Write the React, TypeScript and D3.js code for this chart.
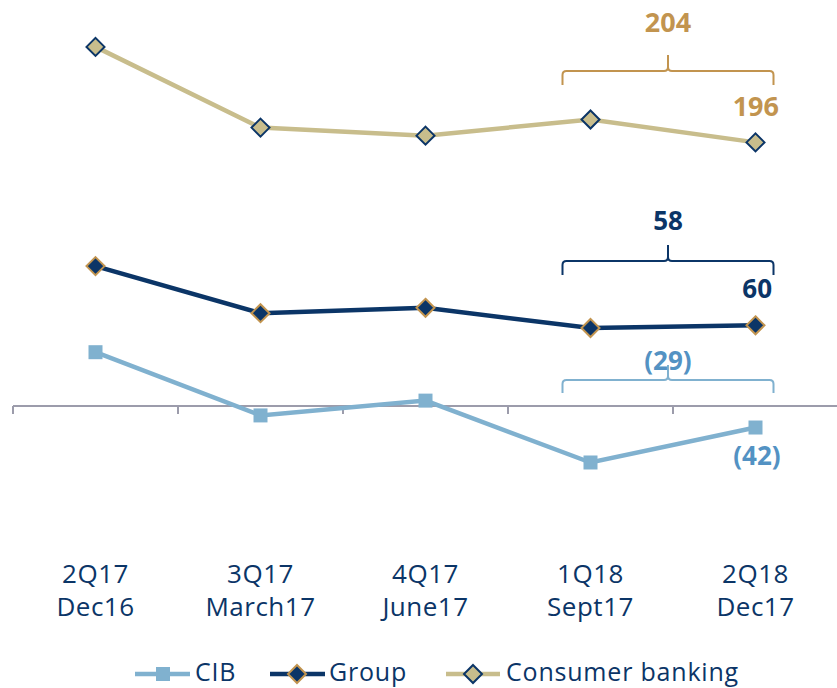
import React from "react";
import * as d3 from "d3";

const categories = ["2Q17", "3Q17", "4Q17", "1Q18", "2Q18"];
const periodLabels = ["Dec16", "March17", "June17", "Sept17", "Dec17"];
const consumerValues = [267, 207, 201, 213, 196];
const groupValues = [104, 69, 73, 58, 60];
const cibValues = [40, -7, 4, -42, -16];

const consumerAvgLabel = "204";
const consumerLastLabel = "196";
const groupAvgLabel = "58";
const groupLastLabel = "60";
const cibAvgLabel = "(29)";
const cibLastLabel = "(42)";

const W = 837;
const H = 688;
const NAVY = "#0b3567";
const GOLD = "#c2944f";
const KHAKI = "#c8bd8c";
const LIGHTBLUE = "#80b1cf";
const BLUETEXT = "#5392c3";
const AXIS = "#9c9cab";
const FONT = "'Open Sans', 'DejaVu Sans', sans-serif";

export default function App() {
  const x = d3.scaleBand<string>().domain(categories).range([13, 838]);
  const cx = (c: string) => (x(c) as number) + x.bandwidth() / 2;
  const y = d3.scaleLinear().domain([0, 200]).range([406, 137]);

  const line = d3
    .line<number>()
    .x((_, i) => cx(categories[i]))
    .y((d) => y(d));

  const diamond = (px: number, py: number, r: number) =>
    `M${px},${py - r}L${px + r},${py}L${px},${py + r}L${px - r},${py}Z`;

  const bracket = (x0: number, x1: number, yh: number, depth: number, tip: number, xm: number) => {
    const r = 4;
    return `M${x0},${yh + depth} L${x0},${yh + r} Q${x0},${yh} ${x0 + r},${yh} L${xm - r},${yh} Q${xm},${yh} ${xm},${yh - r} L${xm},${yh - tip} M${xm},${yh - r} Q${xm},${yh} ${xm + r},${yh} L${x1 - r},${yh} Q${x1},${yh} ${x1},${yh + r} L${x1},${yh + depth}`;
  };

  const bx0 = cx(categories[3]) - 28;
  const bx1 = cx(categories[4]) + 18;
  const bxm = (bx0 + bx1) / 2;

  const ticks = d3.range(categories.length + 1).map((i) => 13 + i * x.bandwidth());

  return (
    <svg width={W} height={H} style={{ position: "absolute", left: 0, top: 0 }} fontFamily={FONT}>
      <rect width={W} height={H} fill="#ffffff" />
      {/* axis */}
      <line x1={13} x2={838} y1={y(0)} y2={y(0)} stroke={AXIS} strokeWidth={2} />
      {ticks.map((t, i) => (
        <line key={i} x1={t} x2={t} y1={y(0)} y2={y(0) + 8} stroke={AXIS} strokeWidth={2} />
      ))}

      {/* Consumer banking */}
      <path d={line(consumerValues) || ""} fill="none" stroke={KHAKI} strokeWidth={4.5} />
      {consumerValues.map((v, i) => (
        <path key={i} d={diamond(cx(categories[i]), y(v), 9)} fill={KHAKI} stroke={NAVY} strokeWidth={2} />
      ))}

      {/* Group */}
      <path d={line(groupValues) || ""} fill="none" stroke={NAVY} strokeWidth={4.5} />
      {groupValues.map((v, i) => (
        <path key={i} d={diamond(cx(categories[i]), y(v), 9)} fill={NAVY} stroke={GOLD} strokeWidth={2} />
      ))}

      {/* CIB */}
      <path d={line(cibValues) || ""} fill="none" stroke={LIGHTBLUE} strokeWidth={4.5} />
      {cibValues.map((v, i) => (
        <rect key={i} x={cx(categories[i]) - 7} y={y(v) - 7} width={14} height={14} fill={LIGHTBLUE} />
      ))}

      {/* brackets */}
      <path d={bracket(bx0, bx1, 71, 14, 16, bxm)} fill="none" stroke={GOLD} strokeWidth={2} />
      <path d={bracket(bx0, bx1, 261, 14, 16, bxm)} fill="none" stroke={NAVY} strokeWidth={2} />
      <path d={bracket(bx0, bx1, 380, 13, 15, bxm)} fill="none" stroke={LIGHTBLUE} strokeWidth={2} />

      {/* annotations */}
      <text x={bxm} y={32} textAnchor="middle" fontSize={27} fontWeight={700} fill={GOLD}>{consumerAvgLabel}</text>
      <text x={779} y={116} textAnchor="end" fontSize={27} fontWeight={700} fill={GOLD}>{consumerLastLabel}</text>
      <text x={bxm} y={230} textAnchor="middle" fontSize={26} fontWeight={700} fill={NAVY}>{groupAvgLabel}</text>
      <text x={772} y={298} textAnchor="end" fontSize={26} fontWeight={700} fill={NAVY}>{groupLastLabel}</text>
      <text x={bxm} y={370} textAnchor="middle" fontSize={26} fontWeight={700} fill={BLUETEXT}>{cibAvgLabel}</text>
      <text x={757} y={465} textAnchor="middle" fontSize={26} fontWeight={700} fill={BLUETEXT}>{cibLastLabel}</text>

      {/* x labels */}
      {categories.map((c, i) => (
        <g key={c} fill={NAVY} fontSize={26} textAnchor="middle" letterSpacing={0.5}>
          <text x={cx(c)} y={583}>{c}</text>
          <text x={cx(c)} y={616}>{periodLabels[i]}</text>
        </g>
      ))}

      {/* legend */}
      <g fontSize={25} fill={NAVY} letterSpacing={0.8}>
        <line x1={135} x2={190} y1={674} y2={674} stroke={LIGHTBLUE} strokeWidth={4.5} />
        <rect x={156} y={667} width={14} height={14} fill={LIGHTBLUE} />
        <text x={195} y={681}>CIB</text>
        <line x1={270} x2={325} y1={674} y2={674} stroke={NAVY} strokeWidth={4.5} />
        <path d={diamond(297, 674, 9)} fill={NAVY} stroke={GOLD} strokeWidth={2} />
        <text x={329} y={681}>Group</text>
        <line x1={446} x2={500} y1={674} y2={674} stroke={KHAKI} strokeWidth={4.5} />
        <path d={diamond(473, 674, 9)} fill={KHAKI} stroke={NAVY} strokeWidth={2} />
        <text x={506} y={681}>Consumer banking</text>
      </g>
    </svg>
  );
}
